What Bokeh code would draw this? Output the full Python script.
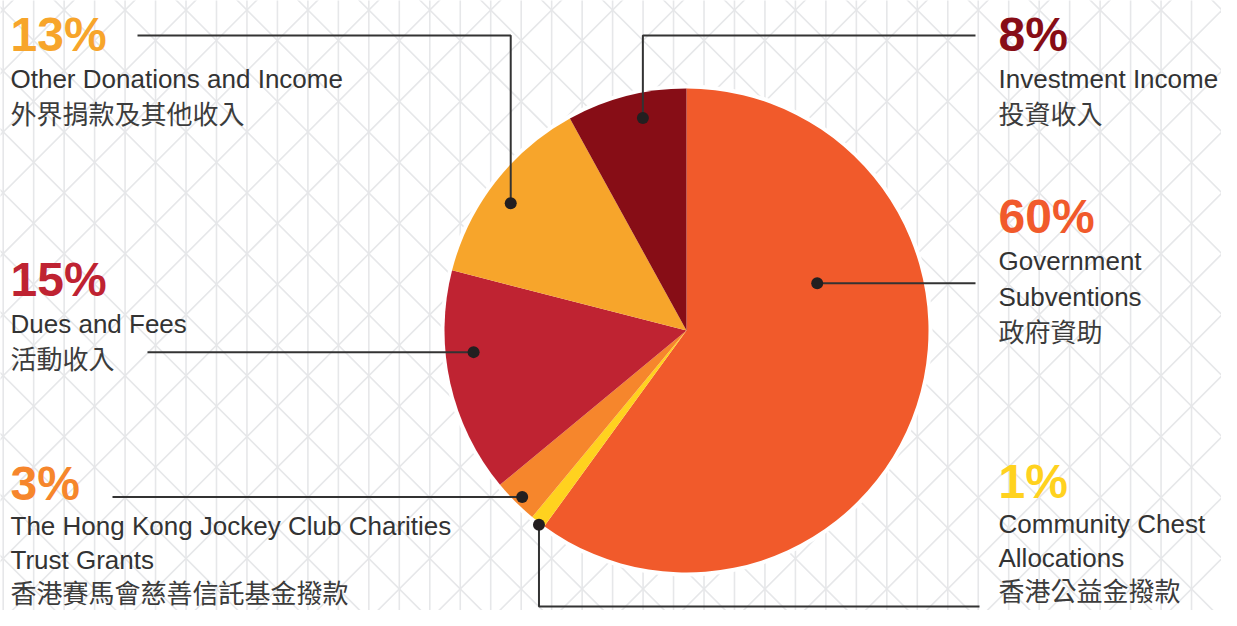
import numpy as np
from bokeh.plotting import figure
from bokeh.models import Range1d
from bokeh.core.properties import value
from bokeh.embed import file_html
from bokeh.resources import INLINE

# ---------------- data ----------------
categories = ["Government Subventions", "Community Chest Allocations",
              "The Hong Kong Jockey Club Charities Trust Grants",
              "Dues and Fees", "Other Donations and Income", "Investment Income"]
shares = [60, 1, 3, 15, 13, 8]
en_lines = [["Government", "Subventions"],
            ["Community Chest", "Allocations"],
            ["The Hong Kong Jockey Club Charities", "Trust Grants"],
            ["Dues and Fees"],
            ["Other Donations and Income"],
            ["Investment Income"]]
zh_labels = ["政府資助", "香港公益金撥款", "香港賽馬會慈善信託基金撥款",
             "活動收入", "外界捐款及其他收入", "投資收入"]
colors = ["#F15A2B", "#FFD21F", "#F6862C", "#BF2332", "#F7A52B", "#870D16"]

# ---------------- layout (pixel space of the figure) ----------------
W, H = 1221, 610


def Y(ypix):
    return H - ypix


CX, CY, R = 686, 330, 242
RX = 998           # right column text x
LE = 975           # right-side leader line end
PCT_SIZE, TXT_SIZE = 48, 26
BASE_FIX = 0.375   # renderer offset of the alphabetic baseline, in em

# label anchor: (text x, percent baseline, line step)
label_pos = [(RX, 234, 36), (RX, 499, 34), (10, 501, 34), (10, 297, 36), (10, 52, 36), (RX, 52, 36)]
# callout dots in polar form around pie centre: (angle deg, radius px)
dot_polar = [(19.9, 139), (232.8, 244), (225.4, 234), (185.8, 214), (144.1, 217), (101.6, 217)]

p = figure(width=W, height=H, output_backend="svg", toolbar_location=None,
           x_range=Range1d(0, W), y_range=Range1d(0, H),
           min_border=0, background_fill_color="white", border_fill_color="white")
p.axis.visible = False
p.grid.visible = False
p.outline_line_color = None

# ---------------- background lattice ----------------
S = 30.47
X0 = 2.7
vx = [X0 + k * S for k in range(0, 42)]
p.segment(x0=vx, y0=[Y(-5)] * len(vx), x1=vx, y1=[Y(H + 5)] * len(vx),
          line_color="#E6E7E9", line_width=1.6)
dxs, dys = [], []
for m in range(-15, 30):
    c1 = -37.3 + (2 * m + 1) * S   # x - y = c1
    dxs.append([c1 - 20, c1 + 700]); dys.append([Y(-20), Y(700)])
    c2 = 42.7 + (2 * m + 1) * S    # x + y = c2
    dxs.append([c2 + 20, c2 - 700]); dys.append([Y(-20), Y(700)])
p.multi_line(xs=dxs, ys=dys, line_color="#E6E7E9", line_width=1.6)

# ---------------- pie ----------------
p.circle(x=[CX], y=[Y(CY)], radius=R + 4, fill_color="white", line_color=None)
total = float(sum(shares))
cum = np.concatenate([[0], np.cumsum(shares)])
a_start = np.radians(90 - 360 * cum[:-1] / total)
a_end = np.radians(90 - 360 * cum[1:] / total)
p.wedge(x=CX, y=Y(CY), radius=R, start_angle=list(a_end), end_angle=list(a_start),
        direction="anticlock", fill_color=colors, line_color=None)

# ---------------- callouts ----------------
dots_x, dots_y = [], []
for ang, r in dot_polar:
    dots_x.append(CX + r * np.cos(np.radians(ang)))
    dots_y.append(CY - r * np.sin(np.radians(ang)))

routes = [
    [(dots_x[0], dots_y[0]), (LE, dots_y[0])],
    [(dots_x[1], dots_y[1]), (dots_x[1], 606), (LE + 4, 606)],
    [(112, dots_y[2]), (dots_x[2], dots_y[2])],
    [(147, dots_y[3]), (dots_x[3], dots_y[3])],
    [(137, 35), (dots_x[4], 35), (dots_x[4], dots_y[4])],
    [(dots_x[5], dots_y[5]), (dots_x[5], 35), (LE, 35)],
]
p.multi_line(xs=[[pt[0] for pt in r] for r in routes],
             ys=[[Y(pt[1]) for pt in r] for r in routes],
             line_color="#333333", line_width=2)
p.scatter(x=dots_x, y=[Y(v) for v in dots_y], size=12, marker="circle",
          fill_color="#231F20", line_color=None)

# ---------------- labels ----------------
for i, (tx, base, step) in enumerate(label_pos):
    p.text(x=[tx], y=[Y(base - BASE_FIX * PCT_SIZE)], text=[f"{shares[i]}%"],
           text_font=value("Liberation Sans"), text_font_style="bold",
           text_font_size=f"{PCT_SIZE}px", text_color=colors[i],
           text_baseline="alphabetic", text_align="left")
    yb = base
    for line in en_lines[i]:
        yb += step
        p.text(x=[tx], y=[Y(yb - BASE_FIX * TXT_SIZE)], text=[line],
               text_font=value("Liberation Sans"), text_font_size=f"{TXT_SIZE}px",
               text_color="#333333", text_baseline="alphabetic", text_align="left")
    yb += step - 2
    p.text(x=[tx], y=[Y(yb - BASE_FIX * TXT_SIZE)], text=[zh_labels[i]],
           text_font=value("Noto Sans CJK TC"), text_font_size=f"{TXT_SIZE}px",
           text_color="#3C3C3C", text_baseline="alphabetic", text_align="left")

open("out.html", "w").write(file_html(p, INLINE))
